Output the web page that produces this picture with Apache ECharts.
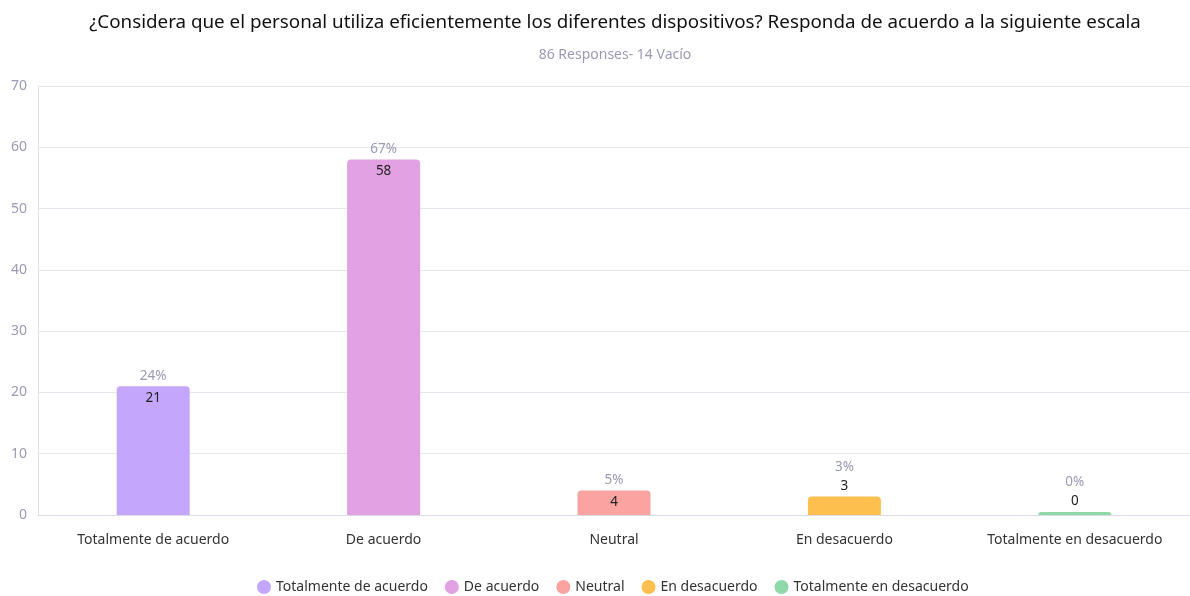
<!DOCTYPE html>
<html><head><meta charset="utf-8">
<script src="https://cdn.jsdelivr.net/npm/echarts@6/dist/echarts.min.js"></script>
<style>html,body{margin:0;padding:0;background:#fff}#c{width:1190px;height:596px}</style>
</head><body><div id="c"></div>
<script>
const categories = ['Totalmente de acuerdo','De acuerdo','Neutral','En desacuerdo','Totalmente en desacuerdo'];
const values = [21, 58, 4, 3, 0];
const pctLabels = ['24%','67%','5%','3%','0%'];
const colors = ['#c4a6fd','#e1a1e3','#fba3a1','#fdc04f','#8fd9a8'];
const yTicks = {min:0, max:70, interval:10};

const chart = echarts.init(document.getElementById('c'));
const FONT = '"Noto Sans", sans-serif';
const series = categories.map((name, i) => ({
  name: name,
  type: 'bar',
  barWidth: 73,
  barGap: '-100%',
  barMinHeight: values[i] === 0 ? 3 : 0,
  itemStyle: {color: colors[i], borderRadius: [4,4,0,0]},
  label: {show: values[i] >= 4, position: 'insideTop', distance: 5, color: '#222', fontSize: 13.5, fontFamily: FONT},
  data: categories.map((c, j) => j === i ? values[i] : '-')
}));
series.push({
  name: 'pct',
  type: 'bar',
  barWidth: 73,
  barGap: '-100%',
  itemStyle: {color: 'transparent'},
  silent: true,
  data: values.map((v, i) => ({
    value: v,
    label: {
      show: true, position: 'top', distance: v === 0 ? 4 : 1,
      formatter: v >= 4 ? '{p|' + pctLabels[i] + '}' : '{p|' + pctLabels[i] + '}\n{v|' + v + '}',
      rich: {
        p: {color: '#9a9ab2', fontSize: 13.5, fontFamily: FONT, lineHeight: 19},
        v: {color: '#222', fontSize: 13.5, fontFamily: FONT, lineHeight: 19}
      }
    }
  }))
});

chart.setOption({
  animation: false,
  title: {
    text: '¿Considera que el personal utiliza eficientemente los diferentes dispositivos? Responda de acuerdo a la siguiente escala',
    subtext: '86 Responses- 14 Vacío',
    left: 610, textAlign: 'center', top: 8, itemGap: 16,
    textStyle: {fontFamily: FONT, fontSize: 18.8, fontWeight: 'normal', color: '#111'},
    subtextStyle: {fontFamily: FONT, fontSize: 14, color: '#9a9ab2'}
  },
  legend: {
    data: categories.map((c, i) => ({name: c, icon: 'circle', itemStyle: {color: colors[i]}})),
    bottom: -3, left: 252, itemWidth: 14, itemHeight: 14, itemGap: 17,
    textStyle: {fontFamily: FONT, fontSize: 14, color: '#333'}
  },
  grid: {left: 38, right: -3, top: 86, bottom: 81, containLabel: false},
  xAxis: {
    type: 'category', data: categories,
    axisLine: {lineStyle: {color: '#dcdce6'}},
    axisTick: {alignWithLabel: true, length: 6, lineStyle: {color: '#dcdce6'}},
    axisLabel: {color: '#333', fontSize: 14, fontFamily: FONT, margin: 18}
  },
  yAxis: {
    type: 'value', min: yTicks.min, max: yTicks.max, interval: yTicks.interval,
    axisLine: {show: true, lineStyle: {color: '#e2e2ea'}},
    axisTick: {show: false},
    splitLine: {lineStyle: {color: '#e6e6ee'}},
    axisLabel: {color: '#9a9ab2', fontSize: 14, fontFamily: FONT, margin: 11}
  },
  series: series
});
</script></body></html>
